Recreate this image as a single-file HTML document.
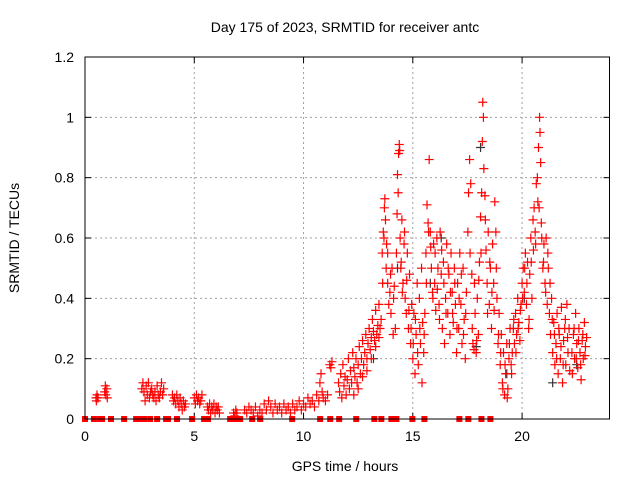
<!DOCTYPE html>
<html><head><meta charset="utf-8"><style>
body{margin:0;background:#fff}
svg{display:block;font-family:"Liberation Sans",sans-serif}
</style></head><body>
<svg id="chart" width="640" height="480" viewBox="0 0 640 480" xmlns="http://www.w3.org/2000/svg">
<rect width="640" height="480" fill="#fff"/>
<text x="345" y="32" font-size="14" text-anchor="middle">Day 175 of 2023, SRMTID for receiver antc</text>
<text transform="translate(19,238) rotate(-90)" font-size="14" text-anchor="middle">SRMTID / TECUs</text>
<text x="345" y="471" font-size="14" text-anchor="middle">GPS time / hours</text>
<g id="grid"></g>
<g id="ticks"></g>
<g id="marks"></g>
<rect x="85" y="57" width="524.5" height="362" fill="none" stroke="#000" stroke-width="1"/>
</svg>
<script>
const xTicks=[0,5,10,15,20];
const yTicks=[0,0.2,0.4,0.6,0.8,1,1.2];
const yTickLabels=["0","0.2","0.4","0.6","0.8","1","1.2"];
const hours=[0.5,0.52,0.55,0.58,0.6,0.9,0.93,0.95,1.0,1.02,
2.6,2.65,2.7,2.75,2.8,2.85,2.9,2.95,3.0,3.05,3.1,3.15,3.2,3.25,3.3,3.35,3.4,3.45,3.5,3.55,3.6,
4.0,4.05,4.1,4.15,4.2,4.25,4.3,4.35,4.4,4.45,4.5,4.55,4.6,
5.0,5.05,5.1,5.15,5.2,5.25,5.3,5.35,
5.6,5.65,5.7,5.75,5.8,5.85,5.9,5.95,6.0,6.05,6.1,6.15,
6.8,6.85,6.9,6.95,
7.3,7.4,7.5,7.6,7.7,7.8,7.9,8.0,8.1,8.2,8.3,8.4,8.5,8.6,8.7,8.8,8.9,9.0,9.1,9.2,9.3,9.4,9.5,9.6,9.7,9.8,9.9,10.0,10.1,10.2,10.3,10.4,10.5,10.6,10.7,10.75,10.8,10.85,10.9,11.0,11.1,11.2,11.25,11.3,
11.6,11.65,11.7,11.75,11.8,11.85,11.9,11.95,12.0,12.05,12.1,12.15,12.2,12.25,12.3,12.35,12.4,12.45,12.5,12.55,12.6,12.65,12.7,12.75,12.8,12.85,12.9,12.95,13.0,13.05,13.1,13.15,13.2,13.25,13.3,13.35,13.4,13.45,13.5,
13.6,13.65,13.7,13.72,13.75,13.78,13.8,13.85,13.9,13.95,
14.0,14.05,14.1,14.15,14.2,14.25,14.3,14.35,14.38,14.4,14.42,14.45,14.5,14.55,14.6,14.65,14.7,14.75,14.8,14.85,14.9,14.95,
15.0,15.05,15.1,15.15,15.2,15.25,15.3,15.35,15.4,15.45,15.5,
15.55,15.6,15.65,15.7,15.75,15.8,15.85,15.9,15.95,
16.0,16.05,16.1,16.15,16.2,16.25,16.3,16.35,16.4,16.45,16.5,16.55,16.6,16.65,16.7,16.75,16.8,16.85,16.9,16.95,
17.0,17.05,17.1,17.15,17.2,17.25,17.3,17.35,17.4,17.45,
17.55,17.6,17.65,17.7,17.75,17.8,17.85,17.9,17.95,
18.0,18.05,18.1,18.15,18.18,18.2,18.23,18.25,18.3,18.35,18.4,18.45,18.5,18.55,18.6,18.65,18.7,18.75,18.8,18.85,18.9,18.95,
19.0,19.05,19.1,19.15,19.2,19.25,19.3,19.35,19.4,19.45,19.5,19.55,
19.6,19.65,19.7,19.75,19.8,19.85,19.9,19.95,
20.0,20.05,20.1,20.15,20.2,20.25,20.3,20.35,20.4,20.45,20.5,20.55,20.6,20.65,20.7,20.75,20.8,20.82,20.85,20.9,20.95,
21.0,21.05,21.1,21.15,21.2,21.25,21.3,21.35,21.4,21.45,21.5,21.55,21.6,21.65,21.7,21.75,21.8,21.85,21.9,21.95,22.0,22.05,22.1,22.15,
22.3,22.35,22.4,22.45,22.5,22.55,22.6,22.65,22.7,22.75,22.8,22.85,22.9];
const srmtid=[.07,.06,.08,.07,.07,.09,.11,.08,.10,.07,
.10,.12,.09,.06,.11,.08,.12,.07,.09,.10,.08,.07,.09,.06,.11,.08,.07,.09,.12,.08,.10,
.08,.06,.07,.05,.08,.06,.04,.07,.05,.03,.06,.04,.05,
.07,.05,.08,.06,.07,.05,.06,.08,
.04,.03,.05,.02,.04,.03,.05,.02,.04,.03,.04,.02,
.02,.01,.03,.02,
.03,.02,.04,.03,.02,.04,.01,.03,.02,.05,.03,.06,.04,.02,.05,.03,.04,.02,.05,.03,.04,.02,.05,.03,.04,.06,.03,.05,.04,.07,.05,.06,.04,.08,.06,.12,.15,.09,.07,.06,.08,.18,.17,.19,
.12,.09,.15,.07,.18,.11,.14,.08,.13,.2,.1,.16,.12,.22,.17,.14,.2,.12,.18,.24,.15,.2,.26,.18,.22,.28,.2,.25,.3,.23,.27,.33,.29,.26,.36,.28,.31,.38,.3,
.55,.62,.7,.73,.66,.5,.58,.45,.38,.42,
.35,.5,.28,.44,.3,.55,.81,.88,.91,.89,.6,.5,.66,.45,.58,.4,.35,.55,.3,.48,.25,.38,
.2,.35,.15,.28,.45,.18,.4,.25,.5,.32,.22,
.35,.55,.71,.65,.86,.62,.5,.42,.58,
.45,.36,.6,.5,.38,.62,.48,.3,.52,.25,.4,.58,.35,.48,.28,.55,.42,.32,.5,.38,
.22,.45,.3,.55,.38,.25,.5,.33,.2,.42,
.75,.86,.78,.48,.25,.23,.35,.22,.4,
.28,.52,.67,.75,.92,1.05,1.0,.83,.74,.56,.45,.62,.38,.5,.3,.58,.45,.72,.62,.4,.25,.35,
.18,.28,.12,.22,.08,.15,.25,.1,.2,.3,.18,.22,
.3,.25,.35,.28,.4,.32,.26,.38,
.45,.5,.42,.55,.38,.52,.3,.48,.6,.4,.66,.7,.62,.78,.8,.9,1.0,.95,.85,.6,.5,
.58,.45,.6,.38,.5,.35,.28,.4,.22,.32,.18,.25,.35,.15,.28,.2,.37,.12,.26,.3,.18,.38,.22,.3,
.15,.28,.2,.35,.25,.17,.3,.22,.13,.26,.2,.32,.24];
const hours2=[12.3,12.5,12.7,12.9,13.1,13.3,13.45,13.55,13.62,13.68,13.85,13.98,14.12,14.28,14.33,14.47,14.52,14.62,14.72,14.82,14.92,15.02,15.12,15.22,15.32,15.42,15.52,15.62,15.72,15.82,15.92,16.02,16.12,16.22,16.32,16.42,16.52,16.62,16.72,16.82,16.92,17.02,17.12,17.22,17.32,17.42,17.52,17.62,17.72,17.82,17.92,18.02,18.12,18.32,18.42,18.52,18.62,18.72,18.82,18.92,19.02,19.12,19.22,19.32,19.42,19.52,19.62,19.72,19.82,19.92,20.02,20.12,20.22,20.32,20.42,20.52,20.62,20.72,20.78,20.88,20.98,21.08,21.18,21.28,21.38,21.48,21.58,21.68,21.78,21.88,21.98,22.08,22.18,22.28,22.38,22.48,22.58,22.68,22.78,22.88,22.95];
const srmtid2=[.08,.1,.14,.16,.2,.24,.27,.33,.45,.6,.55,.48,.4,.68,.75,.52,.42,.62,.46,.36,.3,.25,.33,.22,.3,.12,.28,.45,.62,.57,.4,.55,.43,.33,.56,.45,.35,.5,.42,.35,.45,.3,.4,.48,.28,.35,.62,.55,.3,.45,.26,.46,.55,.66,.35,.52,.42,.36,.5,.28,.22,.1,.18,.07,.25,.15,.33,.22,.3,.36,.4,.5,.45,.33,.52,.56,.58,.72,.7,.65,.52,.42,.55,.45,.33,.28,.2,.3,.24,.18,.33,.27,.16,.22,.3,.2,.26,.18,.28,.21,.27];
const blackHours=[14.3,15.8,16.3,18.1,21.4,22.5,17.9,20.1,13.2,19.3];
const blackVals=[.5,.45,.6,.9,.12,.18,.24,.4,.2,.15];
const zeroHours=[0,0.41,0.69,0.78,1.19,1.79,2.34,2.47,2.70,2.98,3.30,3.71,3.80,4.21,4.90,5.45,5.63,6.64,6.87,7.10,7.65,8.02,9.48,10.76,11.22,11.63,12.41,13.24,13.56,14.02,14.25,14.98,15.53,17.13,17.54,18.14,18.55];

const NS="http://www.w3.org/2000/svg";
const X0=85,X1=609.5,Y0=419,Y1=57;
function xs(h){return X0+(h/24)*(X1-X0);}
function ys(v){return Y0-(v/1.2)*(Y0-Y1);}
function mk(tag,attrs,parent){const e=document.createElementNS(NS,tag);for(const k in attrs)e.setAttribute(k,attrs[k]);parent.appendChild(e);return e;}
const grid=document.getElementById('grid'),ticks=document.getElementById('ticks'),marks=document.getElementById('marks');
xTicks.forEach((t,i)=>{
  const x=xs(t);
  if(t>0){const g=mk('line',{x1:x,x2:x,y1:Y0,y2:Y1,stroke:'#a0a0a0','stroke-dasharray':'2,3'},grid);
  
  }
  mk('line',{x1:x,x2:x,y1:Y0,y2:Y0-6,stroke:'#000'},ticks);
  mk('line',{x1:x,x2:x,y1:Y1,y2:Y1+6,stroke:'#000'},ticks);
  const l=mk('text',{x:x,y:Y0+22,'font-size':'14','text-anchor':'middle'},ticks);
  l.textContent=String(t);
  
  
});
yTicks.forEach((t,i)=>{
  const y=ys(t);
  if(t>0&&t<1.2){const g=mk('line',{x1:X0,x2:X1,y1:y,y2:y,stroke:'#a0a0a0','stroke-dasharray':'2,3'},grid);
  
  }
  mk('line',{x1:X0,x2:X0+6,y1:y,y2:y,stroke:'#000'},ticks);
  mk('line',{x1:X1,x2:X1-6,y1:y,y2:y,stroke:'#000'},ticks);
  const l=mk('text',{x:X0-11,y:y+5,'font-size':'14','text-anchor':'end'},ticks);
  l.textContent=yTickLabels[i];
  
  
});
function plus(h,v,color,name){
  const x=xs(h),y=ys(v);
  const p=mk('path',{d:`M${x-4.5},${y}H${x+4.5}M${x},${y-4.5}V${y+4.5}`,stroke:color,'stroke-width':'1.2',fill:'none'},marks);
  
  
}
blackHours.forEach((h,i)=>plus(h,blackVals[i],'#333','black-point'));
hours.forEach((h,i)=>plus(h,srmtid[i],'#f00','srmtid-point'));
hours2.forEach((h,i)=>plus(h,srmtid2[i],'#f00','srmtid-point-2'));
zeroHours.forEach(h=>{
  const r=mk('rect',{x:xs(h)-3,y:Y0-3,width:6,height:6,fill:'#f00'},marks);
  
  
});
</script>
</body></html>
